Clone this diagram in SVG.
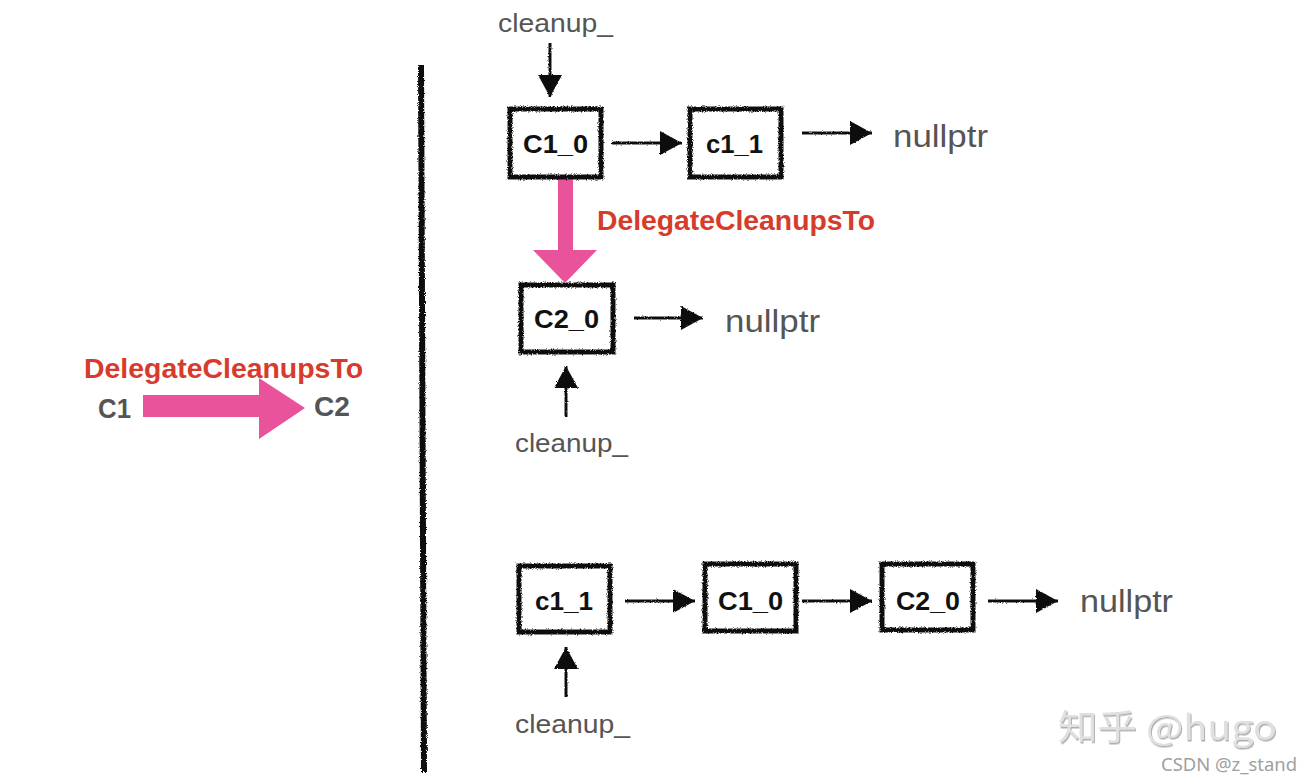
<svg xmlns="http://www.w3.org/2000/svg" width="1312" height="784" viewBox="0 0 1312 784">
  <defs>
    <filter id="rough" filterUnits="userSpaceOnUse" x="0" y="0" width="1312" height="784">
      <feTurbulence type="fractalNoise" baseFrequency="1.2" numOctaves="2" seed="3" result="n"/>
      <feDisplacementMap in="SourceGraphic" in2="n" scale="3.5" xChannelSelector="R" yChannelSelector="G"/>
    </filter>
    <filter id="roughL" filterUnits="userSpaceOnUse" x="0" y="0" width="1312" height="784">
      <feTurbulence type="fractalNoise" baseFrequency="1.2" numOctaves="2" seed="7" result="n"/>
      <feDisplacementMap in="SourceGraphic" in2="n" scale="2.5" xChannelSelector="R" yChannelSelector="G"/>
    </filter>
    <filter id="wm" x="-5%" y="-10%" width="110%" height="130%">
      <feDropShadow dx="1" dy="1.5" stdDeviation="0.4" flood-color="#a5a5a5" flood-opacity="0.9"/>
    </filter>
    <marker id="ah" viewBox="0 0 22 24" refX="22" refY="12" markerWidth="22" markerHeight="24" markerUnits="userSpaceOnUse" orient="auto">
      <path d="M0,0 L22,12 L0,24 z" fill="#111"/>
    </marker>
  </defs>
  <style>
    .box { fill: #fff; stroke: #111; stroke-width: 5; filter: url(#rough); }
    .lbl { font-family: "Liberation Sans", Arial, sans-serif; font-weight: bold; font-size: 26px; fill: #111; }
    .gray { font-family: "Liberation Sans", Arial, sans-serif; font-size: 31px; fill: #555; }
    .cl { font-family: "Liberation Sans", Arial, sans-serif; font-size: 26px; fill: #555; }
    .red { font-family: "Liberation Sans", Arial, sans-serif; font-weight: bold; font-size: 27px; fill: #d63b2b; }
    .cc { font-family: "Liberation Sans", Arial, sans-serif; font-weight: bold; font-size: 27px; fill: #555; }
    .conn { stroke: #111; stroke-width: 3; fill: none; marker-end: url(#ah); }
    .pink { fill: #e8539b; }
  </style>
  <rect width="1312" height="784" fill="#fff"/>

  <!-- divider -->
  <line x1="421" y1="65" x2="424" y2="772" stroke="#111" stroke-width="6" filter="url(#rough)"/>

  <g id="connectors">
    <g filter="url(#roughL)">
      <line class="conn" x1="550" y1="43" x2="550" y2="97"/>
      <line class="conn" x1="612" y1="143" x2="682" y2="143"/>
      <line class="conn" x1="802" y1="133" x2="872" y2="133"/>
      <line class="conn" x1="634" y1="318" x2="703" y2="318"/>
      <line class="conn" x1="566" y1="417" x2="566" y2="366"/>
      <line class="conn" x1="625" y1="601" x2="695" y2="601"/>
      <line class="conn" x1="802" y1="601" x2="872" y2="601"/>
      <line class="conn" x1="988" y1="601" x2="1058" y2="601"/>
      <line class="conn" x1="566" y1="697" x2="566" y2="647"/>
    </g>
    <polygon id="pink-down" class="pink" points="558,179 573,179 573,250 597,250 565,283 533,250 558,250"/>
    <polygon id="pink-right" class="pink" points="143,395 259,395 259,378 305,408 259,439 259,417 143,417"/>
  </g>

  <!-- left legend -->
  <g id="legend">
    <text class="red" x="84" y="378" textLength="279" lengthAdjust="spacingAndGlyphs">DelegateCleanupsTo</text>
    <text class="cc" x="98" y="418" textLength="33" lengthAdjust="spacingAndGlyphs">C1</text>
    <text class="cc" x="314" y="416" textLength="36" lengthAdjust="spacingAndGlyphs">C2</text>
  </g>

  <!-- row 1 -->
  <g id="cleanup-top"><text class="cl" x="498" y="32" textLength="115" lengthAdjust="spacingAndGlyphs">cleanup_</text></g>
  <g id="r1-C1_0">
    <rect class="box" x="510" y="109" width="91" height="68"/>
    <text class="lbl" x="523" y="153" textLength="65" lengthAdjust="spacingAndGlyphs">C1_0</text>
  </g>
  <g id="r1-c1_1">
    <rect class="box" x="690" y="109" width="91" height="68"/>
    <text class="lbl" x="706" y="153" textLength="57" lengthAdjust="spacingAndGlyphs">c1_1</text>
  </g>
  <g id="r1-null"><text class="gray" x="893" y="147" textLength="95" lengthAdjust="spacingAndGlyphs">nullptr</text></g>
  <g id="r1-label"><text class="red" x="597" y="230" textLength="278" lengthAdjust="spacingAndGlyphs">DelegateCleanupsTo</text></g>

  <!-- row 2 -->
  <g id="r2-C2_0">
    <rect class="box" x="521" y="285" width="92" height="67"/>
    <text class="lbl" x="534" y="328" textLength="65" lengthAdjust="spacingAndGlyphs">C2_0</text>
  </g>
  <g id="r2-null"><text class="gray" x="725" y="332" textLength="95" lengthAdjust="spacingAndGlyphs">nullptr</text></g>
  <g id="cleanup-mid"><text class="cl" x="515" y="452" textLength="113" lengthAdjust="spacingAndGlyphs">cleanup_</text></g>

  <!-- row 3 -->
  <g id="r3-c1_1">
    <rect class="box" x="519" y="566" width="91" height="66"/>
    <text class="lbl" x="535" y="610" textLength="58" lengthAdjust="spacingAndGlyphs">c1_1</text>
  </g>
  <g id="r3-C1_0">
    <rect class="box" x="705" y="564" width="91" height="67"/>
    <text class="lbl" x="718" y="610" textLength="65" lengthAdjust="spacingAndGlyphs">C1_0</text>
  </g>
  <g id="r3-C2_0">
    <rect class="box" x="882" y="564" width="91" height="66"/>
    <text class="lbl" x="896" y="610" textLength="64" lengthAdjust="spacingAndGlyphs">C2_0</text>
  </g>
  <g id="r3-null"><text class="gray" x="1080" y="612" textLength="93" lengthAdjust="spacingAndGlyphs">nullptr</text></g>
  <g id="cleanup-bot"><text class="cl" x="515" y="733" textLength="115" lengthAdjust="spacingAndGlyphs">cleanup_</text></g>

  <!-- watermarks -->
  <g id="watermark">
    <text x="1058" y="740" font-family="'Noto Sans CJK SC', 'Noto Sans', sans-serif" font-size="35" fill="#e0e0e0" filter="url(#wm)" textLength="219" lengthAdjust="spacingAndGlyphs">知乎 @hugo</text>
    <text x="1161" y="771" font-family="'Noto Sans', 'Open Sans', sans-serif" font-size="18" fill="#a0a0a0" textLength="136" lengthAdjust="spacingAndGlyphs">CSDN @z_stand</text>
  </g>
</svg>
